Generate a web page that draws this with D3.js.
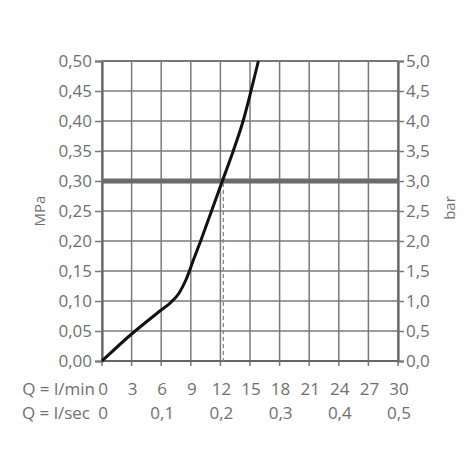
<!DOCTYPE html>
<html><head><meta charset="utf-8">
<script src="https://cdn.jsdelivr.net/npm/d3@7"></script>
<style>
body{margin:0;background:#fff;}
text{font-family:"Open Sans",sans-serif;fill:#707070;}
</style></head>
<body><svg id="c" width="470" height="470"></svg>
<script>
// data
const flowLmin = [0, 3, 6, 7, 7.8, 8.5, 9.3, 10.0, 11.1, 12.2, 13.3, 14.3, 15.1, 15.85];
const pressureMPa = [0, 0.045, 0.085, 0.098, 0.113, 0.135, 0.17, 0.20, 0.25, 0.30, 0.35, 0.40, 0.45, 0.50];
const xTicksLmin = [0, 3, 6, 9, 12, 15, 18, 21, 24, 27, 30];
const xTicksLsec = [0, 0.1, 0.2, 0.3, 0.4, 0.5];
const yTicksMPa = [0, 0.05, 0.10, 0.15, 0.20, 0.25, 0.30, 0.35, 0.40, 0.45, 0.50];
const yTicksBar = [0, 0.5, 1.0, 1.5, 2.0, 2.5, 3.0, 3.5, 4.0, 4.5, 5.0];
const refPressure = 0.30;
const refFlow = 12.3;

const svg = d3.select("#c");
const L = 102, R = 398, T = 61, B = 361;
const x = d3.scaleLinear().domain([0, 30]).range([L, R]);
const y = d3.scaleLinear().domain([0, 0.5]).range([B, T]);
const yBar = d3.scaleLinear().domain([0, 5]).range([B, T]);
const xSec = d3.scaleLinear().domain([0, 0.5]).range([L, R]);
const fmt = (d, n) => d.toFixed(n).replace(".", ",");

// grid
const g = svg.append("g");
g.selectAll("line.v").data(xTicksLmin).join("line")
  .attr("x1", d => x(d)).attr("x2", d => x(d))
  .attr("y1", T).attr("y2", B + 5)
  .attr("stroke", "#7a7a7a").attr("stroke-width", 1.5);
g.selectAll("line.h").data(yTicksMPa).join("line")
  .attr("x1", L).attr("x2", R)
  .attr("y1", d => y(d)).attr("y2", d => y(d))
  .attr("stroke", "#7a7a7a").attr("stroke-width", 1.5);

// axes
const yl = d3.axisLeft(y).tickValues(yTicksMPa).tickSize(7).tickPadding(3).tickFormat(d => fmt(d, 2));
const yr = d3.axisRight(yBar).tickValues(yTicksBar).tickSize(6).tickPadding(2).tickFormat(d => fmt(d, 1));
function style(sel){
  sel.select(".domain").attr("stroke", "#666").attr("stroke-width", 2.2);
  sel.selectAll(".tick line").attr("stroke", "#777").attr("stroke-width", 1.5);
  sel.selectAll(".tick text").style("font-size", "17px").style("fill", "#707070").attr("font-family", null);
}
svg.append("g").attr("transform", `translate(${L},0)`).call(yl).call(style);
svg.append("g").attr("transform", `translate(${R},0)`).call(yr).call(style);
// frame bottom/top
svg.append("line").attr("x1", L).attr("x2", R).attr("y1", B).attr("y2", B).attr("stroke", "#666").attr("stroke-width", 2);
svg.append("line").attr("x1", L).attr("x2", R).attr("y1", T).attr("y2", T).attr("stroke", "#777").attr("stroke-width", 1.8);

// reference line
svg.append("line").attr("x1", L).attr("x2", R).attr("y1", y(refPressure)).attr("y2", y(refPressure))
  .attr("stroke", "#6b6b6b").attr("stroke-width", 5);
svg.append("line").attr("x1", x(refFlow)).attr("x2", x(refFlow)).attr("y1", y(refPressure) + 2).attr("y2", B)
  .attr("stroke", "#888").attr("stroke-width", 1.3).attr("stroke-dasharray", "4,3");

// curve
const pts = flowLmin.map((q, i) => [q, pressureMPa[i]]);
svg.append("path").datum(pts)
  .attr("d", d3.line().x(d => x(d[0])).y(d => y(d[1])).curve(d3.curveMonotoneX))
  .attr("fill", "none").attr("stroke", "#111").attr("stroke-width", 3);

// bottom labels
svg.selectAll("text.lmin").data(xTicksLmin).join("text")
  .attr("x", d => x(d) + 1).attr("y", 395).attr("text-anchor", "middle")
  .style("font-size", "17px").text(d => d);
svg.selectAll("text.lsec").data(xTicksLsec).join("text")
  .attr("x", d => xSec(d) + 1).attr("y", 419).attr("text-anchor", "middle")
  .style("font-size", "17px").text(d => d === 0 ? "0" : fmt(d, 1));
svg.append("text").attr("x", 95).attr("y", 395).attr("text-anchor", "end").style("font-size", "17px").text("Q = l/min");
svg.append("text").attr("x", 90).attr("y", 419).attr("text-anchor", "end").style("font-size", "17px").text("Q = l/sec");

// axis titles
svg.append("text").attr("transform", "translate(45,211) rotate(-90)").attr("text-anchor", "middle")
  .style("font-size", "15px").text("MPa");
svg.append("text").attr("transform", "translate(455,208) rotate(-90)").attr("text-anchor", "middle")
  .style("font-size", "15px").text("bar");
</script></body></html>
